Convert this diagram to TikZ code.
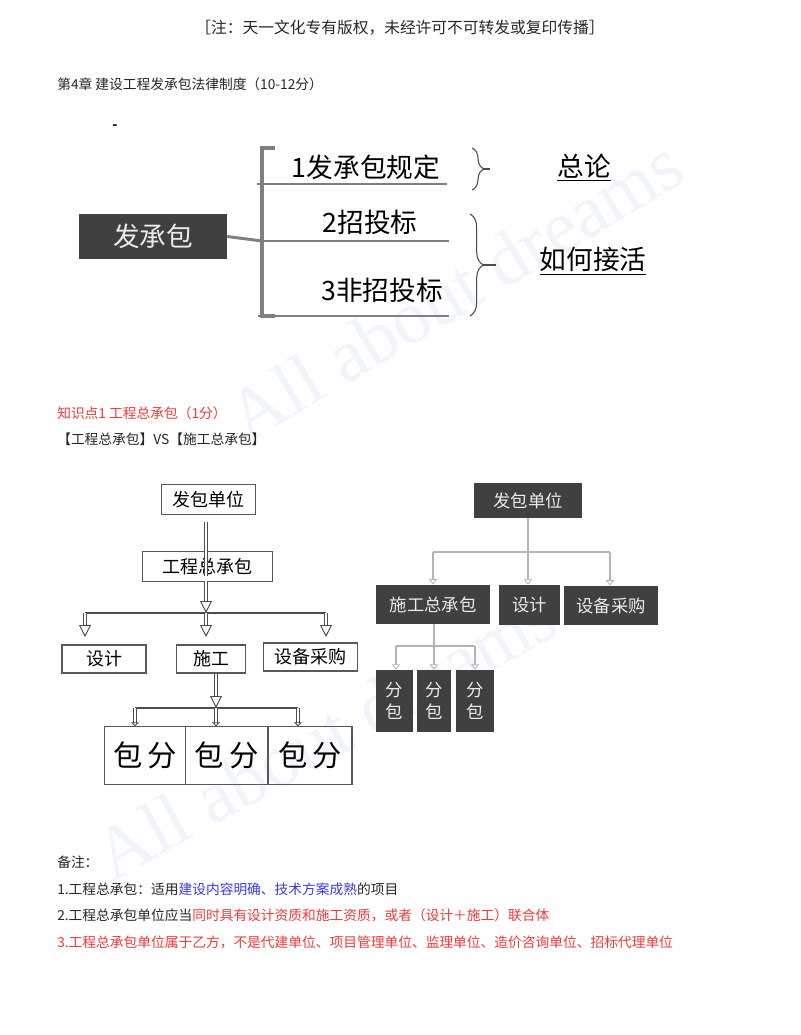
\documentclass[tikz,border=0pt]{standalone}
\usepackage{fontspec}
\usepackage{color}
\setmainfont{Noto Sans CJK SC}
\newfontfamily\wmfont{Liberation Serif}
\usetikzlibrary{arrows.meta,decorations.pathreplacing}
\definecolor{sombre}{HTML}{404040}
\definecolor{rouge}{HTML}{F03A3A}
\definecolor{bleu}{HTML}{3A3AE0}
\definecolor{filigrane}{HTML}{F1F4FB}
\definecolor{trait}{HTML}{7F7F7F}
\definecolor{pale}{HTML}{B4B4B4}
\newcommand{\taille}[1]{\fontsize{#1}{#1}\selectfont}

\begin{document}
\begin{tikzpicture}[x=0.75pt,y=-0.75pt]
\tikzstyle{lien}=[-{Triangle[open,length=9pt,width=9pt,line width=.7pt]},double,double distance=1.3pt,line width=.8pt,black!70]
\tikzstyle{petit}=[-{Triangle[open,length=3pt,width=6pt,line width=.6pt]},double,double distance=1.1pt,line width=.8pt,black!70]
\tikzstyle{bus}=[line width=1.8pt,black!70]
\tikzstyle{gris}=[-{Triangle[open,length=4pt,width=6pt,line width=.6pt]},line width=1.1pt,pale]
\tikzstyle{busgris}=[line width=1.6pt,pale]
\tikzstyle{regle}=[trait,line width=1.6pt]
\tikzstyle{accolade}=[black!70,line width=.8pt,decorate]
\tikzset{ligne/.style={anchor=west,inner sep=0pt,text=black!85,font=\taille{10.3}},
grand/.style={inner sep=0pt,font=\taille{20}},
boite/.style={draw=black!65,line width=.8pt,inner sep=0pt,minimum width=#1,font=\taille{13.5}},
boite/.default={30pt},
noire/.style={fill=sombre,text=white!92!black,inner sep=0pt,minimum width=#1,font=\taille{13}},
filig/.style={text=filigrane,font=\wmfont\taille{56},inner sep=0pt}}
\useasboundingbox (0,0) rectangle (800,1035);
\fill[white] (0,0) rectangle (800,1035);

% filigrane
\node[filig,rotate=31] (W1) at (455,290) {All about dreams};
\node[filig,rotate=29] (W2) at (325,735) {All about dreams};

% texte du haut
\node[inner sep=0pt,text=black!85,font=\taille{11.8}] (note) at (400,28) {［注：天一文化专有版权，未经许可不可转发或复印传播］};
\node[ligne] (chap) at (57,84) {第4章 建设工程发承包法律制度（10-12分）};
\node[inner sep=0pt,font=\taille{10}\bfseries] (tiret) at (115,127) {-};

% premier schema
\node[fill=sombre,text=white!92!black,minimum width=111pt,minimum height=34pt,inner sep=0pt,font=\taille{20}] (F) at (153,236.5) {发承包};
\node[grand] (F1) at (366,167) {1发承包规定};
\node[grand] (F2) at (370,222) {2招投标};
\node[grand] (F3) at (382,290) {3非招投标};
\node[grand] (T1) at (584,168) {\underline{总论}};
\node[grand] (T2) at (593,261) {\underline{如何接活}};
\coordinate (h1) at (275,148);
\coordinate (c1) at (262,148);
\coordinate (c2) at (262,316);
\coordinate (h2) at (275,316);
\coordinate (m) at (262,241);
\draw[trait,line width=2.6pt] (h1) -- (c1) -- (c2) -- (h2);
\draw[regle,line width=2.2pt] (F.east) -- (m);
\draw[regle] (257,184) -- (447,184);
\draw[regle] (m) -- (449,241);
\draw[regle] (258,316) -- (449,316);
\draw[accolade,decoration={brace,amplitude=9pt}] (472,148) -- (472,190);
\draw[accolade,decoration={brace,amplitude=10pt}] (470,214) -- (470,316);
\draw[black!70,line width=.8pt] (484,169) -- (490,169);
\draw[black!70,line width=.8pt] (483,265) -- (496,265);

% deux lignes rouges
\node[ligne,text=rouge] (pt) at (57,413) {知识点1 工程总承包（1分）};
\node[ligne] (vs) at (57,439) {【工程总承包】VS【施工总承包】};

% schema de gauche
\node[boite=71pt,minimum height=23pt] (A) at (208.5,499.5) {发包单位};
\node[boite=98pt,minimum height=22pt] (B) at (207.5,566.5) {工程总承包};
\node[boite=63pt,minimum height=21pt] (B1) at (104,659) {设计};
\node[boite=52pt,minimum height=21pt] (B2) at (211,659) {施工};
\node[boite=71pt,minimum height=21pt] (B3) at (310.5,657) {设备采购};
\node[boite=61pt,minimum height=43pt,font=\taille{22}] (C1) at (145,755.5) {包\hspace{4pt}分};
\node[boite=62pt,minimum height=43pt,font=\taille{22}] (C2) at (226.5,755.5) {包\hspace{4pt}分};
\node[boite=63pt,minimum height=43pt,font=\taille{22}] (C3) at (310,755.5) {包\hspace{4pt}分};
\coordinate (d) at (206,613);
\coordinate (d1) at (85,613);
\coordinate (d3) at (326,613);
\coordinate (e) at (216,708);
\coordinate (e1) at (135,708);
\coordinate (e3) at (298,708);
\draw[double,double distance=1.3pt,line width=.8pt,black!70] (206,522) -- (206,576);
\draw[lien] (206,581) -- (d);
\draw[bus] (d1) -- (d3);
\draw[lien] (d1) -- (85,637);
\draw[lien] (d) -- (206,637);
\draw[lien] (d3) -- (326,637);
\draw[lien] (B2.south -| e) -- (e);
\draw[bus] (e1) -- (e3);
\draw[petit] (e1) -- (e1 |- C1.north);
\draw[petit] (e) -- (e |- C2.north);
\draw[petit] (e3) -- (e3 |- C3.north);

% schema de droite
\node[noire=81pt,minimum height=26pt] (D) at (528,500.5) {发包单位};
\node[noire=86pt,minimum height=29.5pt] (E) at (433,604.5) {施工总承包};
\node[noire=46pt,minimum height=30pt] (E1) at (529.5,605) {设计};
\node[noire=70.5pt,minimum height=29.5pt] (E2) at (611,605.5) {设备采购};
\node[noire=28pt,minimum height=46.5pt,align=center] (G1) at (394.5,701) {分\\[3pt]包};
\node[noire=25.5pt,minimum height=46.5pt,align=center] (G2) at (434,701) {分\\[3pt]包};
\node[noire=28.5pt,minimum height=46.5pt,align=center] (G3) at (475,701) {分\\[3pt]包};
\coordinate (k) at (528,552);
\coordinate (k1) at (433,552);
\coordinate (k3) at (610,552);
\coordinate (l) at (434,646);
\coordinate (l1) at (396,646);
\coordinate (l3) at (475,646);
\draw[pale,line width=1.6pt] (D.south) -- (k);
\draw[busgris] (k1) -- (k3);
\draw[gris] (k1) -- (k1 |- E.north);
\draw[gris] (k) -- (k |- E1.north);
\draw[gris] (k3) -- (k3 |- E2.north);
\draw[pale,line width=1.6pt] (E.south -| l) -- (l);
\draw[busgris] (l1) -- (l3);
\draw[gris] (l1) -- (l1 |- G1.north);
\draw[gris] (l) -- (l |- G2.north);
\draw[gris] (l3) -- (l3 |- G3.north);

% remarques
\node[ligne] (R0) at (57,862) {备注：};
\node[ligne] (R1) at (57,889) {1.工程总承包：适用\textcolor{bleu}{建设内容明确、技术方案成熟}的项目};
\node[ligne] (R2) at (57,915) {2.工程总承包单位应当\textcolor{rouge}{同时具有设计资质和施工资质，或者（设计＋施工）联合体}};
\node[ligne,text=rouge] (R3) at (57,942) {3.工程总承包单位属于乙方，不是代建单位、项目管理单位、监理单位、造价咨询单位、招标代理单位};
\end{tikzpicture}
\end{document}
